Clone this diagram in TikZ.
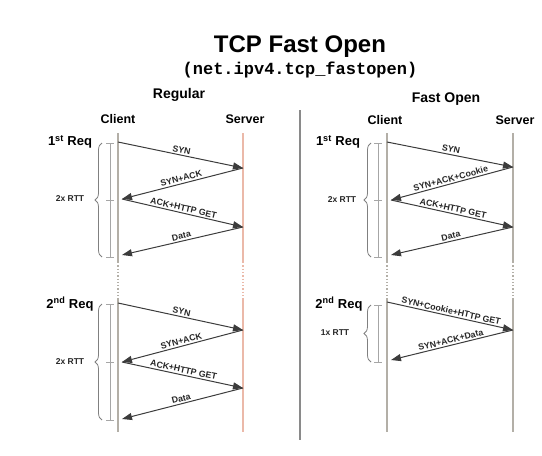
\documentclass[tikz,border=0pt]{standalone}
\usepackage{fontspec}
\setmainfont{Liberation Sans}
\setmonofont{Liberation Mono}
\usetikzlibrary{arrows.meta,decorations.pathreplacing,positioning}
\definecolor{lifegray}{HTML}{B3AFA7}
\definecolor{lifered}{HTML}{EBB9A9}
\definecolor{msggray}{HTML}{3C3C3C}
\definecolor{divgray}{HTML}{8A8A8A}

\begin{document}
\begin{tikzpicture}[x=1pt,y=-1pt,
  every node/.style={font=\bfseries\fontsize{12.5}{14}\selectfont,inner sep=1pt},
  life/.style={line width=1.3pt},
  msg/.style={draw=msggray,line width=1pt,-{Triangle[length=10pt,width=7pt]}},
  lbl/.style={font=\bfseries\fontsize{8.8}{10}\selectfont,text=black!85,sloped,above,inner sep=1.5pt},
  rtt/.style={font=\bfseries\fontsize{8.5}{10}\selectfont,text=black!85},
  req/.style={font=\bfseries\fontsize{13}{14}\selectfont},
  br/.style={draw=gray,line width=0.8pt,decorate,decoration={brace,amplitude=7pt}},
  tick/.style={draw=gray!70,line width=0.6pt}]
  \useasboundingbox (0,0) rectangle (542,456);

  % headings
  \node[font=\bfseries\fontsize{24}{26}\selectfont] (title) at (300,47) {TCP Fast Open};
  \node[font=\ttfamily\bfseries\fontsize{17}{19}\selectfont] (sub) at (300,70) {(net.ipv4.tcp\_fastopen)};
  \node[font=\bfseries\fontsize{14}{16}\selectfont] (reg) at (179,95) {Regular};
  \node[font=\bfseries\fontsize{14}{16}\selectfont] (fast) at (446,99) {Fast Open};
  \node (rclient) at (118,119) {Client};
  \node (rserver) at (245,119) {Server};
  \node (fclient) at (385,120) {Client};
  \node (fserver) at (515,120) {Server};
  \draw[draw=divgray,line width=1.3pt] (300,110) -- (300,440);

  % life lines
  \foreach \x/\c in {118/lifegray,243/lifered,387/lifegray,513/lifegray} {
    \draw[life,draw=\c] (\x,133) -- (\x,262);
    \draw[life,draw=\c,dotted] (\x,262) -- (\x,298);
    \draw[life,draw=\c] (\x,298) -- (\x,432);
  }

  % regular, 1st request
  \node[req] (rreq1) at (70,142) {1\textsuperscript{st} Req};
  \coordinate (r1) at (118,142);
  \coordinate (r2) at (243,168);
  \coordinate (r3) at (122,199);
  \coordinate (r4) at (243,227);
  \coordinate (r5) at (122,255);
  \draw[msg] (r1) -- node[lbl] {SYN} (r2);
  \draw[msg] (r2) -- node[lbl] {SYN+ACK} (r3);
  \draw[msg] (r3) -- node[lbl] {ACK+HTTP GET} (r4);
  \draw[msg] (r4) -- node[lbl] {Data} (r5);
  \draw[br] (102,257) -- (102,143);
  \node[rtt] (rrtt1) at (70,199) {2x RTT};
  \draw[tick] (110,143) -- (110,257);
  \foreach \y in {143,200,257} \draw[tick] (106,\y) -- (114,\y);

  % regular, 2nd request
  \node[req] (rreq2) at (70,304) {2\textsuperscript{nd} Req};
  \coordinate (r6) at (118,303);
  \coordinate (r7) at (243,330);
  \coordinate (r8) at (122,362);
  \coordinate (r9) at (243,388);
  \coordinate (r10) at (122,419);
  \draw[msg] (r6) -- node[lbl] {SYN} (r7);
  \draw[msg] (r7) -- node[lbl] {SYN+ACK} (r8);
  \draw[msg] (r8) -- node[lbl] {ACK+HTTP GET} (r9);
  \draw[msg] (r9) -- node[lbl] {Data} (r10);
  \draw[br] (102,420) -- (102,304);
  \node[rtt] (rrtt2) at (70,362) {2x RTT};
  \draw[tick] (110,304) -- (110,420);
  \foreach \y in {304,362,420} \draw[tick] (106,\y) -- (114,\y);

  % fast open, 1st request
  \node[req] (freq1) at (338,142) {1\textsuperscript{st} Req};
  \coordinate (f1) at (387,142);
  \coordinate (f2) at (513,167);
  \coordinate (f3) at (391,200);
  \coordinate (f4) at (513,227);
  \coordinate (f5) at (391,255);
  \draw[msg] (f1) -- node[lbl] {SYN} (f2);
  \draw[msg] (f2) -- node[lbl] {SYN+ACK+Cookie} (f3);
  \draw[msg] (f3) -- node[lbl] {ACK+HTTP GET} (f4);
  \draw[msg] (f4) -- node[lbl] {Data} (f5);
  \draw[br] (371,257) -- (371,143);
  \node[rtt] (frtt1) at (342,200) {2x RTT};
  \draw[tick] (378,143) -- (378,257);
  \foreach \y in {143,200,257} \draw[tick] (374,\y) -- (382,\y);

  % fast open, 2nd request
  \node[req] (freq2) at (339,304) {2\textsuperscript{nd} Req};
  \coordinate (f6) at (387,302);
  \coordinate (f7) at (513,330);
  \coordinate (f8) at (391,360);
  \draw[msg] (f6) -- node[lbl] {SYN+Cookie+HTTP GET} (f7);
  \draw[msg] (f7) -- node[lbl] {SYN+ACK+Data} (f8);
  \draw[br] (371,362) -- (371,305);
  \node[rtt] (frtt2) at (335,333) {1x RTT};
  \draw[tick] (378,305) -- (378,362);
  \foreach \y in {305,362} \draw[tick] (374,\y) -- (382,\y);
\end{tikzpicture}
\end{document}
